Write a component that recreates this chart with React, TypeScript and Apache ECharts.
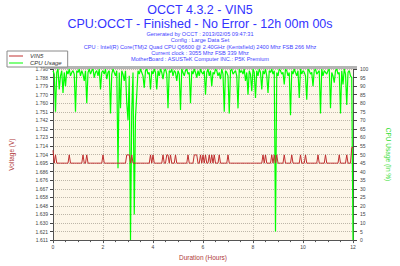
import React, { useEffect, useRef } from "react";
import * as echarts from "echarts";

// Sampling interval of the log, in hours (one reading every 3 minutes)
const SAMPLE_STEP_H = 0.05;

// CPU usage readings (%)
const CPU_USAGE = [
  99, 97, 75, 98, 100, 88, 96, 99, 86, 98,
  90, 99, 97, 100, 96, 98, 99, 97, 75, 99,
  98, 100, 96, 99, 97, 93, 99, 80, 98, 100,
  97, 99, 100, 95, 98, 99, 96, 100, 88, 98,
  99, 97, 100, 94, 98, 99, 74, 97, 100, 98,
  96, 99, 42, 98, 77, 99, 97, 93, 99, 80,
  70, 96, 0, 75, 98, 15, 72, 85, 99, 97,
  100, 98, 96, 89, 99, 100, 97, 98, 88, 99,
  97, 100, 98, 88, 99, 96, 100, 98, 94, 99,
  100, 97, 77, 99, 98, 100, 96, 99, 98, 93,
  99, 97, 76, 100, 98, 96, 99, 100, 97, 98,
  80, 99, 97, 100, 98, 95, 99, 96, 100, 98,
  97, 99, 85, 98, 100, 96, 99, 90, 98, 97,
  100, 99, 96, 98, 94, 100, 97, 75, 99, 98,
  96, 74, 99, 100, 97, 98, 99, 96, 77, 100,
  98, 99, 97, 100, 93, 98, 85, 99, 97, 87,
  100, 98, 83, 99, 96, 100, 98, 88, 99, 97,
  100, 96, 86, 99, 98, 100, 97, 99, 5, 98,
  96, 100, 99, 97, 98, 91, 100, 99, 96, 98,
  73, 99, 97, 100, 98, 96, 99, 83, 100, 97,
  99, 98, 96, 82, 100, 99, 97, 98, 90, 99,
  100, 97, 98, 99, 74, 100, 96, 99, 98, 97,
  99, 100, 77, 98, 96, 92, 99, 100, 97, 98,
  74, 99, 91, 100, 97, 79, 98, 99, 96, 95,
  0,
];

// VIN5 readings (V)
const VIN5 = [
  1.709, 1.695, 1.704, 1.695, 1.695, 1.695, 1.695, 1.695, 1.695, 1.695,
  1.695, 1.695, 1.695, 1.704, 1.695, 1.695, 1.695, 1.695, 1.695, 1.695,
  1.695, 1.695, 1.695, 1.695, 1.704, 1.695, 1.695, 1.704, 1.695, 1.695,
  1.695, 1.695, 1.695, 1.695, 1.695, 1.695, 1.695, 1.695, 1.695, 1.695,
  1.704, 1.695, 1.695, 1.695, 1.695, 1.695, 1.695, 1.695, 1.695, 1.695,
  1.695, 1.695, 1.695, 1.695, 1.695, 1.695, 1.695, 1.695, 1.695, 1.704,
  1.704, 1.704, 1.695, 1.704, 1.695, 1.695, 1.695, 1.695, 1.695, 1.695,
  1.695, 1.695, 1.695, 1.695, 1.695, 1.695, 1.695, 1.695, 1.704, 1.695,
  1.704, 1.695, 1.695, 1.695, 1.695, 1.695, 1.695, 1.695, 1.704, 1.695,
  1.695, 1.704, 1.704, 1.695, 1.704, 1.695, 1.695, 1.695, 1.704, 1.695,
  1.695, 1.695, 1.695, 1.695, 1.695, 1.695, 1.695, 1.695, 1.704, 1.695,
  1.695, 1.695, 1.695, 1.704, 1.704, 1.704, 1.695, 1.695, 1.704, 1.695,
  1.704, 1.695, 1.704, 1.695, 1.695, 1.704, 1.695, 1.704, 1.695, 1.704,
  1.695, 1.695, 1.695, 1.704, 1.695, 1.695, 1.695, 1.695, 1.695, 1.695,
  1.704, 1.695, 1.695, 1.695, 1.695, 1.695, 1.695, 1.695, 1.695, 1.695,
  1.695, 1.695, 1.695, 1.695, 1.695, 1.695, 1.695, 1.695, 1.695, 1.695,
  1.695, 1.695, 1.695, 1.695, 1.695, 1.695, 1.695, 1.695, 1.704, 1.695,
  1.704, 1.695, 1.695, 1.695, 1.695, 1.704, 1.695, 1.704, 1.695, 1.704,
  1.695, 1.695, 1.695, 1.695, 1.695, 1.704, 1.695, 1.695, 1.695, 1.695,
  1.695, 1.704, 1.695, 1.695, 1.695, 1.695, 1.695, 1.695, 1.704, 1.695,
  1.695, 1.695, 1.704, 1.695, 1.695, 1.695, 1.695, 1.695, 1.695, 1.695,
  1.695, 1.695, 1.704, 1.695, 1.695, 1.695, 1.695, 1.695, 1.704, 1.695,
  1.695, 1.695, 1.695, 1.695, 1.695, 1.695, 1.695, 1.695, 1.695, 1.704,
  1.695, 1.695, 1.695, 1.695, 1.695, 1.704, 1.695, 1.695, 1.695, 1.712,
  1.712,
];

// Voltage axis: 20 equal steps starting at 1.6112 V
const VOLT_MIN = 1.6112;
const VOLT_STEP = 0.0093158;
const VOLT_LABELS = [
  "1.611", "1.621", "1.630", "1.639", "1.648", "1.658", "1.667", "1.676",
  "1.686", "1.695", "1.704", "1.714", "1.723", "1.732", "1.742", "1.751",
  "1.760", "1.770", "1.779", "1.788", "1.798",
];

const TITLE = "OCCT 4.3.2 - VIN5";
const SUBTITLE = "CPU:OCCT - Finished - No Error - 12h 00m 00s";
const INFO_LINES = [
  "Generated by OCCT : 2013/02/05 09:47:31",
  "Config : Large Data Set",
  "CPU : Intel(R) Core(TM)2 Quad CPU Q6600 @ 2.40GHz (Kentsfield) 2400 Mhz FSB 266 Mhz",
  "Current clock : 3055 Mhz FSB 339 Mhz",
  "MotherBoard : ASUSTeK Computer INC.: P5K Premium",
];

const FONT = "'Liberation Sans', Arial, sans-serif";

export default function App() {
  const ref = useRef<HTMLDivElement>(null);

  useEffect(() => {
    if (!ref.current) return;
    const chart = echarts.init(ref.current, undefined, { renderer: "svg" });

    const vinData = VIN5.map((v, i) => [i * SAMPLE_STEP_H, (v - VOLT_MIN) / VOLT_STEP]);
    const cpuData = CPU_USAGE.map((v, i) => [i * SAMPLE_STEP_H, v]);

    const infoY = [34, 40.2, 46.5, 52.7, 58.8];

    chart.setOption({
      animation: false,
      backgroundColor: "#ffffff",
      textStyle: { fontFamily: FONT },
      grid: {
        left: 46,
        right: 43,
        top: 69,
        bottom: 25,
        show: true,
        backgroundColor: "#fdf6e8",
        borderWidth: 0,
      },
      legend: {
        left: 7,
        top: 51,
        orient: "vertical",
        backgroundColor: "#ffffff",
        borderColor: "#8a8a8a",
        borderWidth: 1,
        padding: [2, 6, 1, 2],
        itemGap: 1,
        itemWidth: 14,
        itemHeight: 1,
        icon: "rect",
        textStyle: { fontSize: 6, fontStyle: "italic", color: "#333", fontFamily: FONT, padding: [0, 0, 0, 2] },
        data: ["VIN5", "CPU Usage"],
      },
      xAxis: {
        type: "value",
        min: 0,
        max: 12,
        interval: 2,
        name: "Duration (Hours)",
        nameLocation: "middle",
        nameGap: 13,
        nameTextStyle: { fontSize: 6.5, color: "#b03a3a", fontFamily: FONT },
        axisLine: { show: true, lineStyle: { color: "#555", width: 1 } },
        axisTick: { show: true, length: 3, lineStyle: { color: "#555" } },
        minorTick: { show: true, splitNumber: 4, length: 2, lineStyle: { color: "#555" } },
        axisLabel: { fontSize: 5, color: "#444", margin: 4, fontFamily: FONT },
        splitLine: { show: true, lineStyle: { type: "dotted", color: "#c4bdb0", width: 1 } },
      },
      yAxis: [
        {
          type: "value",
          min: 0,
          max: 20,
          interval: 1,
          position: "left",
          name: "Voltage (V)",
          nameLocation: "middle",
          nameRotate: 90,
          nameGap: 38,
          nameTextStyle: { fontSize: 6.5, color: "#b03a3a", fontFamily: FONT },
          axisLine: { show: true, lineStyle: { color: "#555", width: 1 } },
          axisTick: { show: true, length: 3, lineStyle: { color: "#444" } },
          axisLabel: {
            fontSize: 5,
            color: "#444",
            margin: 5,
            fontFamily: FONT,
            formatter: (val: number) => VOLT_LABELS[Math.round(val)],
          },
          splitLine: { show: true, lineStyle: { type: "dotted", color: "#bdb6a8", width: 1 } },
        },
        {
          type: "value",
          min: 0,
          max: 100,
          interval: 5,
          position: "right",
          name: "CPU Usage (In %)",
          nameLocation: "middle",
          nameRotate: -90,
          nameGap: 32,
          nameTextStyle: { fontSize: 6.5, color: "#33dd33", fontFamily: FONT },
          axisLine: { show: true, lineStyle: { color: "#555", width: 1 } },
          axisTick: { show: true, length: 4, lineStyle: { color: "#444" } },
          axisLabel: { fontSize: 5, color: "#444", margin: 7, fontFamily: FONT },
          splitLine: { show: false },
        },
      ],
      graphic: [
        { type: "rect", z: 1, shape: { x: 46, y: 66, width: 311, height: 3 }, style: { fill: "#b4b4b4" } },
        {
          type: "text",
          x: 200,
          y: 9.5,
          style: { text: TITLE, fill: "#3333ff", fontSize: 12.5, fontFamily: FONT, align: "center", verticalAlign: "middle" },
        },
        {
          type: "text",
          x: 200,
          y: 23.5,
          style: { text: SUBTITLE, fill: "#3333ff", fontSize: 12.5, fontFamily: FONT, align: "center", verticalAlign: "middle" },
        },
        ...INFO_LINES.map((t, i) => ({
          type: "text",
          x: 200,
          y: infoY[i],
          style: { text: t, fill: "#4444ff", fontSize: 5.6, fontFamily: FONT, align: "center", verticalAlign: "middle" },
        })),
      ],
      series: [
        {
          name: "VIN5",
          type: "line",
          yAxisIndex: 0,
          data: vinData,
          showSymbol: false,
          symbol: "none",
          lineStyle: { color: "#c03030", width: 1 },
          itemStyle: { color: "#c03030" },
          z: 3,
        },
        {
          name: "CPU Usage",
          type: "line",
          yAxisIndex: 1,
          data: cpuData,
          showSymbol: false,
          symbol: "none",
          lineStyle: { color: "#00ff00", width: 1.2 },
          itemStyle: { color: "#00ff00" },
          z: 2,
        },
      ],
    });

    return () => chart.dispose();
  }, []);

  return (
    <div
      ref={ref}
      style={{ position: "fixed", left: 0, top: 0, width: 400, height: 266 }}
    />
  );
}
